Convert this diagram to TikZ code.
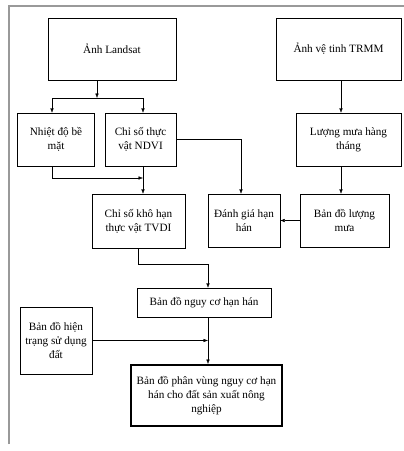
\documentclass[tikz,border=0pt]{standalone}
\usepackage{fontspec}
\setmainfont{Liberation Serif}
\usetikzlibrary{positioning,arrows.meta}
\tikzset{
    step box/.style={%
        draw, thin,
        minimum width=#1,
        align=center,
        inner sep=2pt,
        font=\fontsize{11.2}{14}\selectfont
        },
    step box/.default=70pt,
    flow/.style={-{Latex[length=4.5pt,width=3.5pt]}, thin},
    >=LaTeX
}

\begin{document}
\begin{tikzpicture}[x=1pt, y=-1pt]

\useasboundingbox (0,0) rectangle (404,451);

% khung ngoai
\draw[black!40, line width=1.3pt] (9,444) -- (9,6) -- (404,6);

\node[step box=128pt, minimum height=62pt] (landsat) at (112,49) {Ảnh Landsat};

\node[step box=125pt, minimum height=62pt] (trmm) at (338.5,49) {Ảnh vệ tinh TRMM};

\node[step box=77pt, minimum height=53pt] (nhietdo) at (56,139.5) {Nhiệt độ bề\\mặt};

\node[step box=71pt, minimum height=53pt] (ndvi) at (140.5,139.5) {Chỉ số thực\\vật NDVI};

\node[step box=105pt, minimum height=53pt] (luongmua) at (348.5,139.5) {Lượng mưa hàng\\tháng};

\node[step box=93pt, minimum height=54pt] (tvdi) at (138.5,221) {Chỉ số khô hạn\\thực vật TVDI};

\node[step box=72pt, minimum height=53pt] (danhgia) at (244,220.5) {Đánh giá hạn\\hán};

\node[step box=89pt, minimum height=53pt] (bdmua) at (344.5,220.5) {Bản đồ lượng\\mưa};

\node[step box=134pt, minimum height=29pt] (nguyco) at (204,302.5) {Bản đồ nguy cơ hạn hán};

\node[step box=72pt, minimum height=67pt] (hientrang) at (56,340.5) {Bản đồ hiện\\trạng sử dụng\\đất};

\node[step box=151pt, minimum height=61pt, line width=2pt] (ketqua) at (206.5,395.5) {Bản đồ phân vùng nguy cơ hạn\\hán cho đất sản xuất nông\\nghiệp};

\coordinate (split) at (97,98);
\coordinate (join) at ([xshift=2.5pt]ndvi.south |- 0,178);
\coordinate (merge) at ([xshift=4pt]nguyco.south |- hientrang.east);

\draw[flow] (landsat.south -| split) -- (split);
\draw[flow] (split) -| ([xshift=-4pt]nhietdo.north);
\draw[flow] (split) -| ([xshift=2.5pt]ndvi.north);

\draw[flow] ([xshift=-4pt]nhietdo.south) |- (join);
\draw[flow] ([xshift=2.5pt]ndvi.south) -- ([xshift=2.5pt]ndvi.south |- tvdi.north);
\draw[flow] (ndvi.east) -| ([xshift=-3pt]danhgia.north);

\draw[flow] ([xshift=2.5pt]trmm.south) -- ([xshift=2.5pt]trmm.south |- luongmua.north);
\draw[flow] ([xshift=-7.5pt]luongmua.south) -- ([xshift=-7.5pt]luongmua.south |- bdmua.north);
\draw[flow] (bdmua) -- (danhgia);

\draw[flow] (tvdi.south) -- ++(0,16) -| ([xshift=4pt]nguyco.north);
\draw[flow] ([xshift=4pt]nguyco.south) -- ([xshift=4pt]nguyco.south |- ketqua.north);
\draw[flow] (hientrang) -- (merge);

\end{tikzpicture}
\end{document}
